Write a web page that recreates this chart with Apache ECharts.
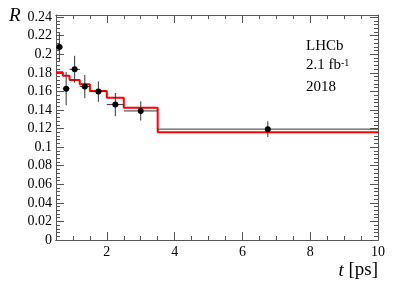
<!DOCTYPE html>
<html><head><meta charset="utf-8">
<script src="https://cdn.jsdelivr.net/npm/echarts@6/dist/echarts.min.js"></script>
<style>html,body{margin:0;padding:0;background:#fff}#c{width:399px;height:287px}</style>
</head><body><div id="c"></div>
<script>
// bin edges in t [ps]
var binEdges = [0.5, 0.7, 0.9, 1.2, 1.5, 2.0, 2.5, 3.5, 10];
// fitted R per bin (red histogram)
var fitValues = [0.1806, 0.177, 0.1724, 0.1677, 0.1605, 0.1533, 0.1423, 0.1160];
// measured R per bin
var dataValues = [0.2078, 0.1630, 0.1838, 0.1652, 0.1598, 0.1458, 0.1390, 0.1194];
var dataErrors = [0.0150, 0.0180, 0.0145, 0.0125, 0.0110, 0.0125, 0.0103, 0.0084];
// tick labels
var xMajorTicks = [2, 4, 6, 8, 10];
var xMinorTicks = [1, 1.5, 2.5, 3, 3.5, 4.5, 5, 5.5, 6.5, 7, 7.5, 8.5, 9, 9.5];

var stepLine = [];
for (var i = 0; i < fitValues.length; i++) {
  stepLine.push([binEdges[i], fitValues[i]]);
  stepLine.push([binEdges[i + 1], fitValues[i]]);
}
var points = [];
for (var j = 0; j < dataValues.length; j++) {
  var lo = binEdges[j], hi = binEdges[j + 1];
  points.push([(lo + hi) / 2, dataValues[j], lo, hi, dataErrors[j]]);
}

var FONT = 'Liberation Serif';
var AX = '#555';
var chart = echarts.init(document.getElementById('c'), null, {renderer: 'canvas'});

function xAx(pos, ticks, len, labels) {
  return {
    type: 'value', min: 0.5, max: 10, position: pos,
    axisLine: {show: true, lineStyle: {color: AX, width: 1}},
    splitLine: {show: false},
    axisTick: {show: true, inside: true, length: len, customValues: ticks, lineStyle: {color: AX}},
    axisLabel: labels ? {show: true, customValues: ticks, fontFamily: FONT, fontSize: 14, color: '#000', margin: 5} : {show: false}
  };
}
function yAx(pos, labels) {
  return {
    type: 'value', min: 0, max: 0.2423, interval: 0.02, position: pos,
    axisLine: {show: true, lineStyle: {color: AX, width: 1}},
    splitLine: {show: false},
    axisTick: {show: true, inside: true, length: 8, lineStyle: {color: AX}},
    minorTick: {show: true, splitNumber: 5, length: 4, lineStyle: {color: AX}},
    axisLabel: labels ? {show: true, showMaxLabel: false, fontFamily: FONT, fontSize: 14, color: '#000', margin: 4} : {show: false}
  };
}

chart.setOption({
  animation: false,
  grid: {left: 56, right: 21, top: 15, bottom: 47},
  xAxis: [
    xAx('bottom', xMajorTicks, 8, true),
    xAx('bottom', xMinorTicks, 4, false),
    xAx('top', xMajorTicks, 8, false),
    xAx('top', xMinorTicks, 4, false)
  ],
  yAxis: [yAx('left', true), yAx('right', false)],
  series: [
    {
      type: 'line', data: stepLine, xAxisIndex: 0, yAxisIndex: 0,
      showSymbol: false, symbol: 'none',
      lineStyle: {color: '#ff0000', width: 2}, z: 2
    },
    {
      type: 'custom', xAxisIndex: 0, yAxisIndex: 0, z: 3,
      data: points,
      renderItem: function (params, api) {
        var c = api.coord([api.value(0), api.value(1)]);
        var l = api.coord([api.value(2), api.value(1)]);
        var r = api.coord([api.value(3), api.value(1)]);
        var t = api.coord([api.value(0), api.value(1) + api.value(4)]);
        var b = api.coord([api.value(0), api.value(1) - api.value(4)]);
        var ls = {stroke: '#333', lineWidth: 1};
        return {
          type: 'group',
          children: [
            {type: 'line', shape: {x1: l[0], y1: c[1], x2: r[0], y2: c[1]}, style: ls},
            {type: 'line', shape: {x1: c[0], y1: t[1], x2: c[0], y2: b[1]}, style: ls},
            {type: 'circle', shape: {cx: c[0], cy: c[1], r: 3}, style: {fill: '#000'}}
          ]
        };
      }
    }
  ],
  graphic: [
    {type: 'text', left: 306, top: 39, style: {text: 'LHCb', fontFamily: FONT, fontSize: 15, fill: '#000'}},
    {type: 'text', left: 306, top: 58, style: {
      text: '{a|2.1 fb}{s|-1}', fontFamily: FONT, fill: '#000',
      rich: {a: {fontFamily: FONT, fontSize: 15, fill: '#000'}, s: {fontFamily: FONT, fontSize: 10, fill: '#000', verticalAlign: 'top', lineHeight: 12}}
    }},
    {type: 'text', left: 306, top: 80, style: {text: '2018', fontFamily: FONT, fontSize: 15, fill: '#000'}},
    {type: 'text', left: 9, top: 6, style: {text: 'R', fontFamily: FONT, fontStyle: 'italic', fontSize: 19, fill: '#000'}},
    {type: 'text', right: 21, top: 261, style: {
      text: '{i|t} [ps]', fontFamily: FONT, fontSize: 19, fill: '#000',
      rich: {i: {fontFamily: FONT, fontStyle: 'italic', fontSize: 19, fill: '#000'}}
    }}
  ]
});
</script></body></html>
